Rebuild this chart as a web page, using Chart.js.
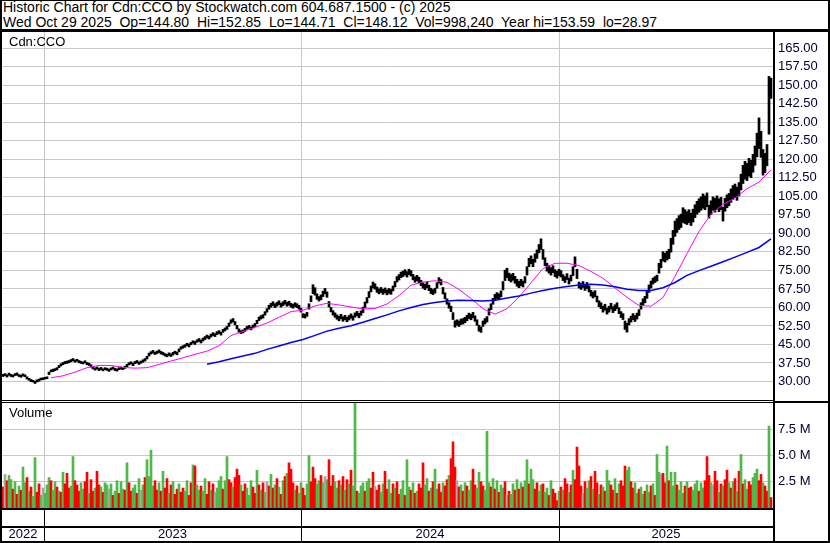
<!DOCTYPE html>
<html>
<head>
<meta charset="utf-8">
<script src="https://cdn.jsdelivr.net/npm/chart.js@4.4.1/dist/chart.umd.min.js"></script>
<style>
  body { margin: 0; background: #fff; }
  #page { position: relative; width: 830px; height: 543px; overflow: hidden; background: #fff;
          font-family: "Liberation Sans", Arial, sans-serif; }
  .ln { position: absolute; background: #000; z-index: 5; }
  .t { position: absolute; left: 3px; font-size: 13px; line-height: 15px; white-space: pre; color: #000; z-index: 6; }
  .hd { font-size: 14px; }
  canvas { position: absolute; }
</style>
</head>
<body>
<div id="page">
  <div class="t hd" style="top:0px">Historic Chart for Cdn:CCO by Stockwatch.com 604.687.1500 - (c) 2025</div>
  <div class="t hd" style="top:15px">Wed Oct 29 2025  Op=144.80  Hi=152.85  Lo=144.71  Cl=148.12  Vol=998,240  Year hi=153.59  lo=28.97</div>
  <div class="t" style="top:34px; left:9px">Cdn:CCO</div>
  <div class="t" style="top:405px; left:9px">Volume</div>

  <canvas id="price" width="826" height="368" style="left:2px; top:32px"></canvas>
  <canvas id="vol" width="826" height="138" style="left:2px; top:403px"></canvas>

  <div class="ln" style="left:0; top:0; width:830px; height:1px"></div>
  <div class="ln" style="left:0; top:0; width:2px; height:543px"></div>
  <div class="ln" style="left:828px; top:0; width:2px; height:543px"></div>
  <div class="ln" style="left:0; top:541px; width:830px; height:2px"></div>
  <div class="ln" style="left:0; top:29px; width:830px; height:3px"></div>
  <div class="ln" style="left:773px; top:32px; width:2px; height:510px"></div>
  <div class="ln" style="left:0; top:400px; width:773px; height:1px"></div>
  <div class="ln" style="left:0; top:402px; width:773px; height:1px"></div>
  <div class="ln" style="left:775px; top:401px; width:55px; height:2px"></div>
  <div class="ln" style="left:0; top:508px; width:773px; height:2px"></div>
  <div class="ln" style="left:0; top:526px; width:773px; height:2px"></div>
</div>

<script>
// one sample = 2 trading days, Nov 2022 .. Oct 29 2025
const yearStarts = [20.5, 149, 278];
const yearLabels = ['2022', '2023', '2024', '2025'];
const priceTicks = [30, 37.5, 45, 52.5, 60, 67.5, 75, 82.5, 90, 97.5, 105, 112.5, 120, 127.5, 135, 142.5, 150, 157.5, 165];
const volTicks = [2.5, 5, 7.5];

const lo = [
  32.0,32.4,31.8,32.5,32.0,31.8,32.4,32.5,32.0,31.7,
  32.2,31.9,31.0,30.5,29.9,29.8,29.2,29.8,30.1,30.6,
  30.7,31.0,31.1,32.8,33.9,34.0,34.4,34.7,35.6,36.3,
  36.8,37.2,37.3,37.6,38.0,38.4,37.8,38.2,37.6,37.3,
  37.1,37.5,36.8,36.5,35.8,35.1,34.6,35.0,34.4,34.8,
  34.3,34.8,34.5,34.1,34.7,35.0,34.4,34.2,34.8,35.0,
  34.8,35.3,36.0,36.7,37.1,36.4,37.2,37.5,36.9,37.4,
  37.8,38.3,39.1,40.3,41.1,41.5,40.9,41.3,41.7,41.1,
  40.8,40.3,40.0,40.5,40.1,40.7,41.3,40.8,42.0,43.1,
  43.5,43.9,44.5,44.0,44.9,45.5,45.0,45.9,46.2,45.6,
  46.4,47.0,47.6,47.2,48.0,48.6,48.2,49.0,49.4,48.8,
  49.9,50.5,51.1,52.3,53.6,54.1,52.9,51.3,49.9,49.4,
  49.7,50.3,51.1,51.5,50.9,51.7,52.3,53.4,54.7,55.3,
  55.7,56.9,58.1,59.3,60.1,60.7,59.9,60.5,61.1,60.1,
  60.7,61.3,60.5,60.9,60.1,59.7,60.3,59.9,59.3,58.1,
  55.9,55.7,56.4,59.3,62.3,65.6,65.0,63.3,62.6,63.1,
  64.4,65.5,64.1,60.2,58.2,56.9,56.0,55.2,54.6,55.4,
  54.4,55.0,54.2,54.9,55.6,54.8,56.0,56.6,55.8,56.8,
  57.9,60.0,61.8,64.0,66.3,67.9,67.4,66.1,65.5,66.1,
  65.3,65.9,65.1,65.7,65.3,66.7,68.3,70.3,71.1,72.1,
  72.5,73.1,72.3,73.3,72.7,71.2,70.2,70.8,70.0,68.8,
  67.8,67.2,68.0,66.8,65.6,65.2,65.8,67.8,69.9,69.1,
  65.5,63.5,61.3,59.7,58.3,55.1,52.0,52.8,52.3,53.1,
  53.3,53.8,54.6,55.5,55.0,55.8,54.4,52.8,50.4,49.9,
  52.3,53.3,54.1,56.9,59.1,61.3,62.9,63.6,63.1,64.3,
  67.1,70.9,72.1,70.9,70.3,71.0,69.8,68.6,68.0,68.8,
  68.3,69.9,73.1,76.5,77.7,76.5,78.3,79.9,82.1,83.5,
  79.5,76.9,74.7,73.9,73.1,74.1,72.5,71.9,72.9,72.3,
  70.9,70.1,71.3,69.5,70.7,72.9,76.5,71.7,67.9,67.3,
  68.1,66.9,67.7,66.3,64.6,63.8,64.4,62.2,60.3,59.5,
  58.1,58.9,57.3,58.1,59.3,57.9,58.7,59.5,57.5,55.9,
  55.1,51.1,50.0,52.9,54.1,55.1,54.3,55.3,56.7,59.3,
  60.9,61.9,63.7,66.1,67.9,69.5,70.1,70.7,73.9,76.1,
  78.8,78.4,79.2,79.8,82.4,85.6,88.8,90.4,91.6,92.4,
  94.4,94.0,93.6,94.4,93.2,94.6,96.4,97.8,98.6,99.4,
  100.2,99.6,100.8,96.2,97.6,99.4,98.6,99.8,98.8,99.6,
  95.0,99.0,100.4,101.2,102.6,103.8,104.6,103.4,105.2,107.6,
  110.2,112.0,111.4,113.2,112.6,114.8,117.6,121.0,124.4,120.8,
  113.6,114.6,117.4,130.2,144.7
];
const hi = [
  32.9,33.2,32.7,33.4,32.9,32.6,33.2,33.5,32.8,32.6,
  33.1,32.7,31.9,31.3,30.8,30.5,30.1,30.7,31.0,31.4,
  31.5,31.7,31.9,33.8,34.7,35.0,35.2,35.6,36.5,37.2,
  37.7,38.1,38.3,38.5,38.9,39.3,38.7,39.0,38.5,38.2,
  37.9,38.4,37.7,37.4,36.8,36.0,35.5,35.9,35.3,35.7,
  35.1,35.6,35.4,35.0,35.5,35.9,35.3,35.1,35.6,35.9,
  35.7,36.2,37.0,37.6,38.0,37.4,38.1,38.5,37.9,38.3,
  38.8,39.3,40.2,41.5,42.1,42.6,41.9,42.3,42.8,42.2,
  41.8,41.3,41.0,41.6,41.2,41.8,42.3,41.9,43.2,44.1,
  44.5,44.9,45.5,45.2,45.9,46.5,46.2,46.9,47.4,46.8,
  47.6,48.2,48.8,48.4,49.2,49.8,49.4,50.2,50.6,50.0,
  51.1,51.7,52.3,53.7,55.0,55.5,54.3,52.7,51.3,50.6,
  50.9,51.5,52.3,52.7,52.1,52.9,53.5,54.8,56.1,56.7,
  57.1,58.3,59.5,60.9,61.7,62.3,61.5,62.1,62.7,61.7,
  62.3,62.9,62.1,62.5,61.7,61.3,61.9,61.5,60.9,59.7,
  57.5,57.3,58.0,61.5,64.7,69.2,68.0,65.5,64.4,65.1,
  66.6,67.7,66.3,62.4,60.0,58.7,57.8,57.0,56.4,57.2,
  56.2,56.8,56.0,56.7,57.4,56.6,57.8,58.4,57.6,58.6,
  60.1,62.2,64.0,66.4,68.7,70.3,69.6,68.3,67.5,68.1,
  67.3,67.9,67.1,67.7,67.3,68.7,70.5,72.5,73.3,74.3,
  74.7,75.3,74.5,75.5,74.9,73.4,72.4,73.0,72.2,71.0,
  70.0,69.4,70.2,69.0,67.8,67.2,67.8,70.0,72.1,71.3,
  68.1,65.9,63.5,61.9,60.5,57.9,54.6,55.0,54.5,55.3,
  55.5,56.0,56.8,57.7,57.2,58.0,56.6,55.0,52.8,52.1,
  54.5,55.5,56.3,59.5,61.5,63.7,65.3,66.0,65.5,66.7,
  70.5,75.1,75.9,73.9,73.3,73.8,72.6,71.4,70.6,71.4,
  70.7,72.5,76.5,79.9,80.9,79.5,81.7,83.3,85.5,87.8,
  83.5,80.1,77.9,76.9,76.1,76.9,75.3,74.7,75.5,74.9,
  73.3,72.5,73.7,71.9,73.1,76.5,80.5,75.5,70.3,69.7,
  70.5,69.3,70.1,68.7,67.0,66.2,66.8,64.6,62.7,61.9,
  60.5,61.3,59.7,60.5,61.7,60.3,61.1,61.9,59.9,58.3,
  57.5,54.5,53.6,55.5,56.5,57.5,56.7,57.7,59.1,61.9,
  63.5,64.5,66.5,69.1,70.7,71.9,72.5,73.1,77.9,79.5,
  82.6,82.0,82.8,83.6,88.0,91.2,95.0,96.0,97.2,97.8,
  100.4,99.6,98.8,99.6,98.2,99.8,101.6,103.0,104.0,104.8,
  106.0,105.2,106.4,101.4,103.2,104.8,104.2,105.2,104.0,104.6,
  100.6,104.2,105.6,106.2,108.0,109.4,110.0,108.8,110.6,114.0,
  117.6,119.2,118.4,120.4,119.6,122.0,125.4,130.6,136.8,131.4,
  124.0,122.4,126.0,153.6,152.9
];

// volume in millions, direction r=down g=up n=unchanged
const vol = [
  2.0,3.2,2.6,3.1,2.7,1.8,2.5,1.3,2.1,1.7,
  3.9,2.4,2.9,1.6,2.0,1.1,4.8,1.5,2.3,1.2,
  1.9,1.4,2.2,2.9,2.6,1.7,2.5,2.0,1.6,1.5,
  3.4,2.3,3.3,1.9,2.1,4.9,2.6,2.2,1.6,2.4,
  1.8,2.5,3.4,1.4,2.7,1.6,1.9,3.5,2.2,2.0,
  1.5,2.4,2.2,1.8,2.3,1.2,1.6,2.6,1.4,2.5,
  1.8,1.7,4.3,2.4,1.6,1.9,2.2,1.4,2.8,1.7,
  2.2,2.9,4.6,3.0,5.5,2.1,2.6,1.7,2.4,1.6,
  3.5,1.9,2.8,1.4,2.2,2.5,1.3,1.8,2.3,1.5,
  1.9,1.6,2.6,1.2,2.4,4.1,4.0,2.2,1.7,2.1,
  1.6,2.8,1.3,2.5,1.7,2.3,1.5,1.9,2.6,3.0,
  1.8,2.6,4.9,2.7,2.4,2.0,2.9,3.7,3.1,2.2,
  1.6,2.3,1.9,1.2,2.6,2.0,1.4,3.6,2.2,1.7,
  2.4,1.5,2.5,2.1,3.2,1.9,2.2,2.8,2.0,1.3,
  2.6,3.0,3.3,4.3,3.7,2.4,1.7,2.1,1.4,2.4,
  1.9,1.2,2.3,5.0,2.5,3.9,2.8,2.3,2.6,3.1,
  2.4,3.0,2.7,4.6,2.1,3.1,2.5,1.9,2.6,2.2,
  3.0,1.7,2.7,2.3,3.6,2.1,10.0,1.6,1.4,2.1,
  2.4,1.6,2.5,2.8,1.9,3.4,2.1,1.7,2.2,1.5,
  2.3,3.5,1.8,2.7,1.4,2.3,1.9,2.5,1.3,1.8,
  2.6,1.2,4.6,2.0,1.7,2.4,1.4,1.6,2.3,1.9,
  4.3,2.2,2.8,1.6,1.9,2.5,3.7,1.8,2.3,1.5,
  2.4,2.1,2.7,3.1,4.7,6.3,3.9,2.6,2.0,2.2,
  1.6,2.4,2.1,1.7,2.6,3.7,2.2,1.9,3.4,2.5,
  2.1,1.7,7.3,2.4,2.0,2.8,1.8,2.6,1.5,2.2,
  1.9,2.5,1.2,1.6,1.3,2.3,1.7,2.7,1.8,2.4,
  2.0,2.6,4.6,2.3,3.7,2.7,1.8,2.4,1.6,2.2,
  2.3,1.5,1.9,1.2,2.6,1.8,1.4,0.7,1.6,2.0,
  1.7,2.8,2.3,1.5,2.2,3.6,2.7,5.8,4.0,2.1,
  1.4,2.5,1.9,2.6,3.0,1.8,3.5,2.4,1.3,2.2,
  2.0,1.6,3.6,2.6,2.2,1.7,2.8,1.4,2.3,2.6,
  2.1,4.0,3.6,3.9,2.5,1.9,2.4,1.4,1.8,2.0,
  1.3,1.6,2.2,1.5,2.1,2.3,1.2,5.1,3.4,3.2,
  3.3,2.4,5.9,2.6,3.4,2.1,3.4,2.2,1.7,2.5,
  1.4,2.1,2.5,1.9,2.0,1.7,2.3,2.6,1.6,2.4,
  1.9,2.6,4.9,3.1,2.4,2.2,3.5,2.6,1.5,2.3,
  2.1,2.7,3.6,2.4,1.9,2.5,2.8,1.6,3.5,5.1,
  2.3,2.7,1.8,2.5,2.2,2.9,3.3,3.7,2.6,3.2,
  2.4,2.1,1.6,7.8,1.0
];
const dir =
  'rnrggrgrgr' + 'ggrgrggrrg' + 'ngggrggrgr' + 'grrrggrrrg' + 'grrgrrgrrg' +
  'rggngrggrg' + 'grgrrggrgn' + 'grggggrrgr' + 'grrgrgrrgr' + 'rggrrgrggr' +
  'ggrrgrnggg' + 'rggrrgrrrg' + 'rrgggrrgrg' + 'rgnrgrgrgr' + 'grgrrrgrgg' +
  'rrggrrrggr' + 'gngrrrggrg' + 'rgrgrggrgg' + 'grggrrnrrg' + 'grrggrgrrg' +
  'grggrgrgrr' + 'rggrgrggrr' + 'grrgrrrnrg' + 'rgrggrrggr' + 'rgggrgrgrg' +
  'grnrggrgrg' + 'rggrggrrgg' + 'rggrgrrrgr' + 'grrgrgrrrr' + 'nrggrgrrgr' +
  'grggrrgrgr' + 'rrggrrggrg' + 'grggrgrggn' + 'rrgrgggrgg' + 'grgrrgggrg' +
  'grrrgnrrgr' + 'grrgrgrgrg' + 'rggrrgggrr' + 'grrgr';

// moving averages, one reading every 6 samples
const maStep = 6;
const ma50 = [
  null,null,null,null,31.5,32.3,33.8,35.6,36.5,36.5,
  35.7,35.4,35.6,36.9,38.3,39.6,41.0,42.3,44.5,48.6,
  50.3,51.9,53.7,56.0,58.3,58.9,60.6,61.7,61.0,60.2,
  59.4,59.6,61.4,64.8,69.0,70.3,70.8,70.2,67.3,63.6,
  59.5,57.3,59.5,64.2,70.0,75.8,77.9,77.9,77.0,74.6,
  71.8,67.9,64.1,60.8,60.5,64.0,72.6,81.8,90.8,97.8,
  101.8,104.3,108.1,110.8,115.7
];
const ma200 = [
  null,null,null,null,null,null,null,null,null,null,
  null,null,null,null,null,null,null,37.0,38.0,39.2,
  40.3,41.4,43.0,44.4,45.8,47.0,48.7,50.4,51.6,52.6,
  54.0,55.5,57.0,58.6,60.0,61.2,62.0,62.6,62.9,62.8,
  62.6,62.9,63.8,64.6,65.8,66.9,67.8,68.5,69.1,69.4,
  69.1,68.4,67.4,66.9,66.9,68.0,70.1,73.0,74.9,76.7,
  78.5,80.4,82.3,84.3,87.8
];

const FONT = '"Liberation Sans", Arial, sans-serif';
const GRID = '#c8c8c8';
const LABEL = '#000033';
const COLORS = { r: '#ff0000', g: '#50b848', n: '#a8a8a8' };

function noPad(s) {
  s.paddingTop = 0; s.paddingBottom = 0; s.paddingLeft = 0; s.paddingRight = 0;
}

function xScale() {
  return {
    type: 'linear', min: -0.5, max: 385, offset: false,
    afterBuildTicks: s => { s.ticks = yearStarts.map(v => ({ value: v })); },
    afterFit: s => { s.height = 0; noPad(s); },
    grid: { color: GRID, lineWidth: 1, drawTicks: false, offset: false },
    border: { display: false },
    ticks: { display: false }
  };
}

function yScale(min, max, ticks, fmt) {
  return {
    position: 'right', min: min, max: max,
    afterBuildTicks: s => { s.ticks = ticks.map(v => ({ value: v })); },
    afterFit: s => { s.width = 55; noPad(s); },
    grid: { color: GRID, lineWidth: 1, drawTicks: false, offset: false },
    border: { display: false },
    ticks: { padding: 5, color: LABEL, font: { family: FONT, size: 13 }, callback: fmt }
  };
}

const common = {
  responsive: false, animation: false, events: [],
  layout: { padding: 0 },
  plugins: { legend: { display: false }, tooltip: { enabled: false } }
};

new Chart(document.getElementById('price'), {
  type: 'bar',
  data: {
    datasets: [
      {
        type: 'line', data: ma200.map((v, k) => ({ x: k * maStep, y: v })),
        borderColor: '#0000ff', borderWidth: 1.5, pointRadius: 0, order: 0
      },
      {
        type: 'line', data: ma50.map((v, k) => ({ x: k * maStep, y: v })),
        borderColor: '#ff00ff', borderWidth: 1, pointRadius: 0, order: 1
      },
      {
        data: lo.map((v, i) => ({ x: i, y: [v, hi[i]] })),
        backgroundColor: '#000', barThickness: 2, order: 2
      }
    ]
  },
  options: Object.assign({}, common, {
    scales: {
      x: xScale(),
      y: yScale(22.5, 171.6, priceTicks, v => v.toFixed(2))
    }
  })
});

const yearRow = {
  id: 'yearRow',
  afterDraw(chart) {
    const { ctx, chartArea } = chart;
    const x = chart.scales.x;
    ctx.save();
    ctx.fillStyle = '#000';
    yearStarts.forEach(b => {
      const px = Math.round(x.getPixelForValue(b));
      ctx.fillRect(px, chartArea.bottom, 1, chart.height - chartArea.bottom);
    });
    const edges = [x.min].concat(yearStarts, [x.max]);
    ctx.font = '13px ' + FONT;
    ctx.fillStyle = LABEL;
    ctx.textAlign = 'center';
    ctx.textBaseline = 'middle';
    yearLabels.forEach((t, j) => {
      const cx = (x.getPixelForValue(edges[j]) + x.getPixelForValue(edges[j + 1])) / 2;
      ctx.fillText(t, cx, chartArea.bottom + 26.5);
    });
    ctx.restore();
  }
};

new Chart(document.getElementById('vol'), {
  type: 'bar',
  data: {
    datasets: [{
      data: vol.map((v, i) => ({ x: i, y: v })),
      backgroundColor: vol.map((v, i) => COLORS[dir[i]]),
      barThickness: 2
    }]
  },
  options: Object.assign({}, common, {
    layout: { padding: { bottom: 33 } },
    scales: {
      x: xScale(),
      y: yScale(0, 10, volTicks, v => v.toFixed(1) + ' M')
    }
  }),
  plugins: [yearRow]
});
</script>
</body>
</html>
